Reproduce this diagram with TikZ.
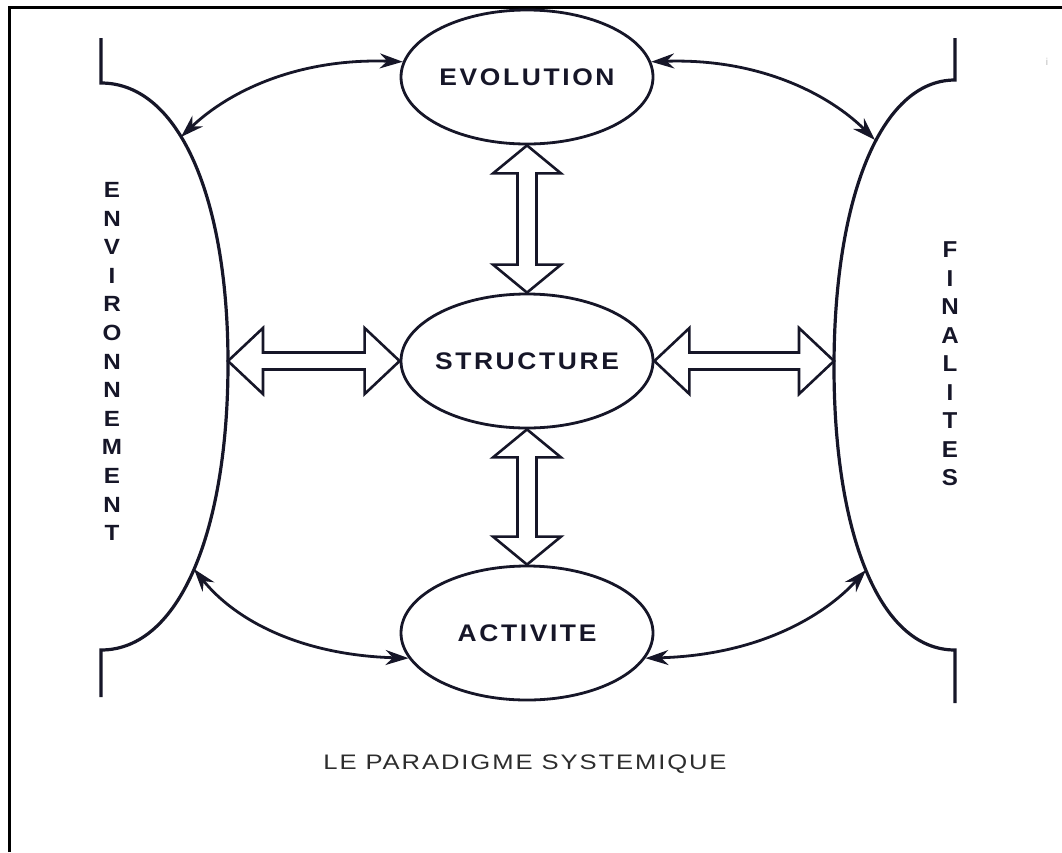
\documentclass[tikz,border=0pt]{standalone}
\usepackage{fontspec}
\setmainfont{Liberation Sans}
\usetikzlibrary{shapes.geometric,arrows.meta,calc}
\definecolor{ink}{RGB}{22,22,40}
\definecolor{captiongray}{RGB}{45,45,45}
\newcommand\fatV[2]{%
  \draw[fatarrow] let \p1=(#1), \p2=(#2) in
    (\x1,\y1) -- (\x1+34pt,\y1-28pt) -- (\x1+9.5pt,\y1-28pt) -- (\x1+9.5pt,\y2+28pt)
    -- (\x1+34pt,\y2+28pt) -- (\x1,\y2) -- (\x1-34pt,\y2+28pt) -- (\x1-9.5pt,\y2+28pt)
    -- (\x1-9.5pt,\y1-28pt) -- (\x1-34pt,\y1-28pt) -- cycle;}
\newcommand\fatH[2]{%
  \draw[fatarrow] let \p1=(#1), \p2=(#2) in
    (\x1,\y1) -- (\x1+35pt,\y1+33pt) -- (\x1+35pt,\y1+8.5pt) -- (\x2-35pt,\y1+8.5pt)
    -- (\x2-35pt,\y1+33pt) -- (\x2,\y1) -- (\x2-35pt,\y1-33pt) -- (\x2-35pt,\y1-8.5pt)
    -- (\x1+35pt,\y1-8.5pt) -- (\x1+35pt,\y1-33pt) -- cycle;}
\begin{document}
\begin{tikzpicture}[x=1pt,y=-1pt,
  bubble/.style={ellipse, draw=ink, line width=2.8pt, minimum width=252pt,
    minimum height=134pt, inner sep=0pt, text=ink,
    font=\fontsize{24}{28}\selectfont\bfseries\addfontfeature{FakeStretch=1.1,LetterSpace=11}},
  bracket/.style={draw=ink, line width=3.2pt, line join=miter},
  thinarrow/.style={draw=ink, line width=2.8pt,
    {Stealth[length=23pt,width=15pt]}-{Stealth[length=23pt,width=15pt]}},
  fatarrow/.style={draw=ink, line width=2.6pt, fill=white, line join=miter},
  vword/.style={align=center, inner sep=0pt, text=ink},
  frame/.style={draw=black, line width=3pt}]
\useasboundingbox (0,0) rectangle (1062,852);
% frame
\draw[frame] (9,852) -- (9,7) -- (1062,7);
% side brackets
\draw[bracket] (101,38) -- (101,83) .. controls (180,83) and (228,200) .. (228,363)
  .. controls (228,530) and (180,650) .. (101,650) -- (101,697);
\draw[bracket] (955,38) -- (955,80) .. controls (880,80) and (834,200) .. (834,367)
  .. controls (834,530) and (878,650) .. (955,650) -- (955,703);
\coordinate (L1) at (181,137);
\coordinate (L2) at (194,569);
\coordinate (L3) at (228,361);
\coordinate (R1) at (875,140);
\coordinate (R2) at (866,570);
\coordinate (R3) at (834,361);
% ellipses
\node[bubble] (evo) at (527,77) {\makebox[0pt]{EVOLUTION}};
\node[bubble] (str) at (527,361) {\makebox[0pt]{STRUCTURE}};
\node[bubble] (act) at (527,633) {\makebox[0pt]{ACTIVITE}};
% fat double arrows
\fatV{evo.south}{str.north}
\fatV{str.south}{act.north}
\fatH{L3}{str.west}
\fatH{str.east}{R3}
% thin curved arrows
\draw[thinarrow] (evo.173) .. controls (300,58) and (230,90) .. (L1);
\draw[thinarrow] (evo.7) .. controls (760,58) and (830,95) .. (R1);
\draw[thinarrow] (act.192) .. controls (300,655) and (235,620) .. (L2);
\draw[thinarrow] (act.348) .. controls (760,655) and (825,615) .. (R2);
% vertical words
\node[vword, font=\fontsize{22}{28.6}\selectfont\bfseries\addfontfeature{FakeStretch=1.1}] (env) at (112,361.5)
  {E\\N\\V\\I\\R\\O\\N\\N\\E\\M\\E\\N\\T};
\node[vword, font=\fontsize{23}{28.5}\selectfont\bfseries\addfontfeature{FakeStretch=1.05}] (fin) at (950,364)
  {F\\I\\N\\A\\L\\I\\T\\E\\S};
% caption
\node[text=captiongray, inner sep=0pt,
  font=\fontsize{21}{25}\selectfont\addfontfeature{FakeStretch=1.22,LetterSpace=9}] (cap) at (525,764)
  {LE PARADIGME SYSTEMIQUE};
\node[text=gray!55, inner sep=0pt, font=\fontsize{10}{12}\selectfont] (mark) at (1047,62) {i};
\end{tikzpicture}
\end{document}
